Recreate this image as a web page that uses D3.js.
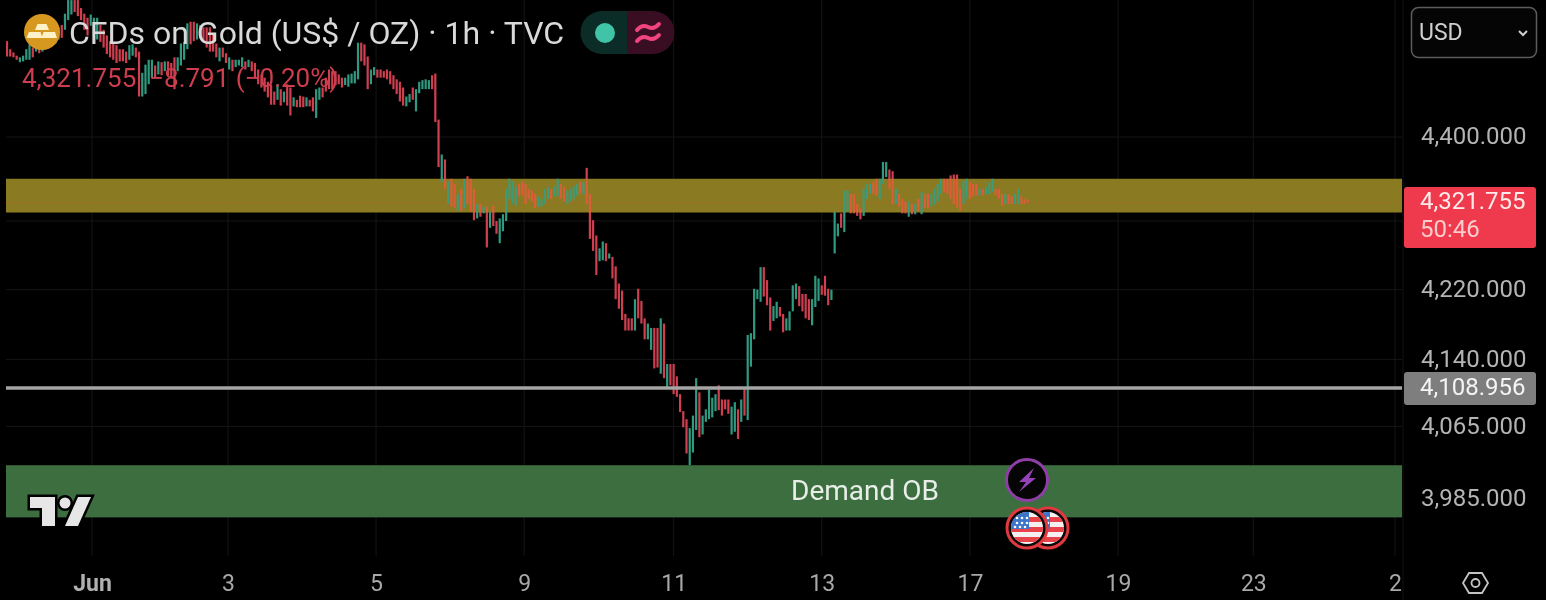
<!DOCTYPE html>
<html><head><meta charset="utf-8">
<script src="https://cdn.jsdelivr.net/npm/d3@7/dist/d3.min.js"></script>
<style>
html,body{margin:0;padding:0;background:#000;overflow:hidden}
svg{display:block;filter:blur(.6px)}
text{font-family:Roboto,"Noto Sans",sans-serif}
</style></head><body>
<svg id="c" width="1546" height="600"></svg>
<script>
const highs=[
4517,4507,4503,4499,4497,4499,4507,4513,4509,4513,
4512,4514,4519,4521,4524,4529,4534,4537,4551,4568,
4568,4568,4568,4558,4551,4546,4550,4546,4546,4537,
4531,4524,4517,4514,4512,4507,4507,4504,4512,4513,
4509,4504,4478,4488,4494,4494,4487,4492,4491,4492,
4492,4490,4497,4497,4514,4516,4539,4541,4541,4539,
4537,4534,4534,4534,4526,4514,4509,4509,4502,4497,
4494,4494,4494,4497,4492,4494,4492,4490,4482,4476,
4472,4467,4463,4455,4464,4458,4455,4464,4460,4448,
4445,4450,4449,4448,4445,4448,4458,4460,4460,4472,
4482,4480,4480,4476,4472,4472,4476,4477,4480,4515,
4515,4513,4498,4482,4485,4482,4482,4480,4482,4480,
4475,4470,4467,4460,4449,4452,4460,4458,4467,4469,
4470,4469,4475,4477,4421,4379,4373,4347,4350,4344,
4332,4338,4350,4353,4350,4338,4320,4320,4317,4317,
4311,4318,4300,4303,4308,4338,4350,4347,4341,4344,
4346,4344,4338,4336,4332,4329,4326,4338,4340,4338,
4341,4350,4344,4340,4336,4338,4341,4344,4346,4346,
4363,4332,4301,4283,4268,4276,4274,4262,4258,4247,
4227,4219,4192,4187,4187,4209,4221,4207,4187,4181,
4176,4176,4176,4187,4181,4135,4135,4135,4121,4101,
4082,4073,4063,4077,4119,4103,4077,4084,4106,4097,
4101,4111,4095,4095,4095,4087,4092,4084,4095,4107,
4168,4170,4221,4220,4246,4246,4231,4211,4201,4206,
4200,4192,4187,4195,4225,4227,4224,4215,4215,4209,
4209,4236,4233,4225,4236,4221,4220,4311,4297,4309,
4336,4336,4332,4332,4320,4315,4338,4344,4344,4346,
4350,4350,4370,4370,4361,4359,4338,4332,4326,4323,
4323,4320,4320,4326,4334,4332,4332,4332,4338,4344,
4350,4350,4350,4354,4355,4355,4338,4347,4350,4346,
4344,4344,4338,4338,4340,4346,4350,4338,4338,4332,
4332,4332,4329,4332,4338,4329,4326,4325];
const lows=[
4498,4498,4497,4494,4491,4492,4494,4494,4497,4504,
4502,4504,4507,4512,4512,4514,4519,4521,4531,4543,
4550,4553,4548,4543,4531,4524,4536,4524,4519,4516,
4509,4501,4497,4494,4490,4492,4492,4490,4494,4499,
4497,4449,4449,4452,4464,4472,4472,4476,4475,4480,
4475,4472,4458,4480,4487,4494,4507,4513,4517,4519,
4521,4517,4509,4504,4504,4497,4492,4497,4490,4482,
4480,4485,4487,4485,4482,4485,4480,4472,4464,4460,
4455,4448,4439,4439,4445,4438,4442,4438,4426,4437,
4436,4436,4436,4437,4437,4431,4423,4445,4448,4455,
4458,4458,4463,4464,4460,4463,4461,4465,4465,4470,
4492,4487,4458,4464,4475,4472,4472,4472,4470,4464,
4458,4452,4443,4438,4437,4442,4445,4431,4453,4458,
4458,4458,4458,4418,4364,4346,4338,4320,4317,4315,
4312,4312,4315,4320,4311,4301,4303,4305,4309,4269,
4292,4294,4285,4274,4288,4300,4326,4320,4318,4330,
4330,4320,4326,4323,4315,4317,4317,4320,4326,4326,
4329,4329,4326,4323,4320,4323,4326,4330,4332,4332,
4320,4279,4265,4237,4253,4254,4253,4256,4233,4209,
4198,4185,4173,4173,4173,4173,4187,4181,4163,4163,
4151,4130,4131,4124,4119,4107,4111,4101,4098,4081,
4064,4035,4022,4036,4061,4053,4056,4070,4073,4075,
4082,4083,4077,4084,4079,4056,4059,4051,4070,4077,
4072,4132,4163,4209,4206,4212,4202,4173,4184,4187,
4189,4171,4173,4173,4195,4209,4201,4195,4187,4185,
4179,4200,4207,4214,4213,4202,4208,4262,4282,4292,
4287,4311,4309,4309,4306,4302,4306,4326,4332,4332,
4330,4326,4344,4352,4338,4320,4320,4317,4309,4309,
4305,4308,4308,4312,4308,4315,4315,4317,4320,4323,
4332,4334,4332,4326,4320,4315,4312,4320,4326,4326,
4329,4330,4330,4330,4331,4332,4334,4330,4326,4318,
4320,4320,4320,4320,4320,4320,4320,4321.755];
const directions=(
"RRRRGGGGRG"+"RGGGRGGRGG"+"GRRRRRGGGR"+"RRRRRRRRGG"+"RRGGGGRGRG"+
"RRRGGGGRRG"+"GRRRRRGRRG"+"RGGGRGRRRR"+"RRRRGRGRRG"+"RRRGRRGGRR"+
"RRRRRGGGGG"+"RRRGGRRRRR"+"RRRRGGRGGG"+"GGRRRGRGRR"+"GRGRRRGRGR"+
"GRRGGGGGGR"+"RRRRRGGGGR"+"GGRRGGGGRG"+"RRRRGGRGRR"+"RRRRRGRRRG"+
"GRRGRGRRRR"+"RRGGGRGGGG"+"GRRRRGGRGR"+"GGGGGRRRGG"+"RRGGGGRRRR"+
"GGGRRRGGGR"+"GGRRRRGGGR"+"RGGGRRGRRR"+"GRGRGRRGGG"+"GRRRRRRGGR"+
"RRGRGGGRRR"+"GRRGGRRR").split("");
const priceTicks=[4400,4300,4220,4140,4065,3985];
const priceLabels=["4,400.000","","4,220.000","4,140.000","4,065.000","3,985.000"];
const timeTickBars=[26.4,68.6,114.6,160.6,207,253,299,345,387,431];
const timeLabels=["Jun","3","5","9","11","13","17","19","23","2"];
const lastPrice=4321.755, refPrice=4108.956;
const supplyZone=[4350,4310], demandZone=[4022,3965];
const title="CFDs on Gold (US$ / OZ) · 1h · TVC";
const legendValues="4,321.755  −8.791 (−0.20%)";

const svg=d3.select("#c");
const L=6,R=1402;
const x=d3.scaleLinear().domain([0,431]).range([7,1395]);
const y=d3.scaleLog().domain([4400,3985]).range([137,499]);
const defs=svg.append("defs");
defs.append("clipPath").attr("id","pane").append("rect").attr("x",L).attr("y",0).attr("width",R-L).attr("height",560);

// grid
const gridC="#151515";
svg.append("g").selectAll("line").data(timeTickBars).join("line")
 .attr("x1",d=>x(d)).attr("x2",d=>x(d)).attr("y1",0).attr("y2",556).attr("stroke",gridC);
svg.append("g").selectAll("line").data(priceTicks).join("line")
 .attr("x1",L).attr("x2",R).attr("y1",d=>y(d)).attr("y2",d=>y(d)).attr("stroke",gridC);
svg.append("line").attr("x1",1403).attr("x2",1403).attr("y1",0).attr("y2",600).attr("stroke","#121212");

// zones under candles
const zoneY=z=>({y:y(z[0]),h:y(z[1])-y(z[0])});
const sz=zoneY(supplyZone), dz=zoneY(demandZone);
svg.append("rect").attr("x",L).attr("y",dz.y).attr("width",R-L).attr("height",dz.h).attr("fill","#3d6e40");
defs.append("clipPath").attr("id","bandclip").append("rect").attr("x",L).attr("y",sz.y).attr("width",R-L).attr("height",sz.h);

// candles
function candles(parent,col){
 parent.selectAll("rect").data(highs).join("rect")
 .attr("x",(d,i)=>x(i)-1.1).attr("width",2.2)
 .attr("y",d=>y(d)).attr("height",(d,i)=>Math.max(1,y(lows[i])-y(d)))
 .attr("fill",(d,i)=>col[directions[i]]);
}
candles(svg.append("g").attr("clip-path","url(#pane)"),{R:"#cf3f50",G:"#2f9a80"});
svg.append("rect").attr("x",L).attr("y",sz.y).attr("width",R-L).attr("height",sz.h).attr("fill","#8a7a22");
// last price line
svg.append("line").attr("x1",L).attr("x2",R).attr("y1",y(lastPrice)).attr("y2",y(lastPrice))
 .attr("stroke","#d8503a").attr("stroke-opacity",.45).attr("stroke-width",1).attr("stroke-dasharray","2 2");
candles(svg.append("g").attr("clip-path","url(#bandclip)"),{R:"#dc5e38",G:"#3f9a78"});
// reference line
svg.append("line").attr("x1",L).attr("x2",R).attr("y1",y(refPrice)+1).attr("y2",y(refPrice)+1)
 .attr("stroke","#a5a5a5").attr("stroke-width",3.5);

// demand text
svg.append("text").attr("x",865).attr("y",500).attr("text-anchor","middle")
 .attr("font-size",28).attr("fill","#e8eee8").text("Demand OB");

// price axis
const yAxis=d3.axisRight(y).tickValues(priceTicks).tickSize(0).tickPadding(0).tickFormat((d,i)=>priceLabels[i]);
const ya=svg.append("g").attr("transform","translate(1421,-1)").call(yAxis);
ya.select(".domain").remove();
ya.selectAll("text").attr("font-size",24).attr("fill","#b4b4b4").attr("font-family","Roboto");

// time axis
const xAxis=d3.axisBottom(x).tickValues(timeTickBars).tickSize(0).tickPadding(0).tickFormat((d,i)=>timeLabels[i]);
const xa=svg.append("g").attr("transform","translate(0,575)").call(xAxis);
xa.select(".domain").remove();
xa.selectAll("text").attr("font-size",23).attr("fill","#a8a8a8").attr("font-family","Roboto");
xa.selectAll("text").filter((d,i)=>i===0).attr("font-weight",700).attr("fill","#b0b0b0");

// price labels
svg.append("rect").attr("x",1404).attr("y",187).attr("width",132).attr("height",61).attr("rx",3).attr("fill","#ef3a4d");
svg.append("text").attr("x",1420).attr("y",209).attr("font-size",24).attr("fill","#fdeaea").text(d3.format(",.3f")(lastPrice));
svg.append("text").attr("x",1420).attr("y",237).attr("font-size",24).attr("fill","#fbcccc").text("50:46");
svg.append("rect").attr("x",1404).attr("y",372).attr("width",132).attr("height",33).attr("rx",3).attr("fill","#7e7e7e");
svg.append("text").attr("x",1420).attr("y",395).attr("font-size",24).attr("fill","#f4f4f4").text(d3.format(",.3f")(refPrice));

// currency box
svg.append("rect").attr("x",1411.5).attr("y",7.5).attr("width",125).attr("height",50).attr("rx",7).attr("fill","#050505").attr("stroke","#5c5c5c").attr("stroke-width",1.5);
svg.append("text").attr("x",1419).attr("y",40).attr("font-size",23).attr("fill","#cfcfcf").text("USD");
svg.append("path").attr("d","M1519,31 l4,4 l4,-4").attr("fill","none").attr("stroke","#d0d0d0").attr("stroke-width",2);

// legend
svg.append("text").attr("x",69).attr("y",44).attr("font-size",32).attr("fill","#d9d9d9").text(title);
svg.append("text").attr("x",22).attr("y",87).attr("font-size",26).attr("fill","#cc3d4d").style("white-space","pre").text(legendValues);
// gold icon
svg.append("circle").attr("cx",42).attr("cy",32).attr("r",18).attr("fill","#d7981f");
svg.append("path").attr("fill","#fff2c8").attr("d","M37.5,24 h9 l2.5,6 h-14 z M29,32 h11.5 l2,6 h-16 z M43.5,32 h11.5 l2,6 h-15.5 z");
// status pill
svg.append("path").attr("d","M602,11 a21.5,21.5 0 0 0 0,43 h25 v-43 z").attr("fill","#0c2c28");
svg.append("path").attr("d","M627,11 h26 a21.5,21.5 0 0 1 0,43 h-26 z").attr("fill","#3a0e22");
svg.append("circle").attr("cx",605).attr("cy",33).attr("r",10).attr("fill","#41c3a8");
svg.append("path").attr("d","M637,30 q5,-6 11,-3 t11,-3 M637,41 q5,-6 11,-3 t11,-3").attr("fill","none").attr("stroke","#f0447f").attr("stroke-width",4).attr("stroke-linecap","round");

// TV logo
const logo=svg.append("g").attr("fill","#e6e6e6").attr("stroke","#000").attr("stroke-width",5).attr("paint-order","stroke").attr("stroke-linejoin","miter");
logo.append("path").attr("d","M30,497 h25 v29 h-13 v-18 h-12 z");
logo.append("circle").attr("cx",65).attr("cy",503).attr("r",5.5);
logo.append("path").attr("d","M78,497 h13 l-13,29 h-13 z");

// event markers
svg.append("circle").attr("cx",1027).attr("cy",480).attr("r",20.5).attr("fill","#050505").attr("stroke","#8d3fa6").attr("stroke-width",3);
svg.append("path").attr("d","M1034,468 l-15,14 h7 l-7,10 l17,-14 h-7 z").attr("fill","#9442b8");
[[1048,528],[1027,528]].forEach((c,k)=>{
 const id="flag"+k;
 defs.append("clipPath").attr("id",id).append("circle").attr("cx",c[0]).attr("cy",c[1]).attr("r",16);
 svg.append("circle").attr("cx",c[0]).attr("cy",c[1]).attr("r",20).attr("fill","#080808").attr("stroke","#e0393f").attr("stroke-width",3);
 const g=svg.append("g").attr("clip-path",`url(#${id})`);
 g.append("rect").attr("x",c[0]-16).attr("y",c[1]-16).attr("width",32).attr("height",32).attr("fill","#f5f0f0");
 [-11,-1,9].forEach(o=>g.append("rect").attr("x",c[0]-16).attr("y",c[1]+o).attr("width",32).attr("height",5).attr("fill","#e8434a"));
 g.append("rect").attr("x",c[0]-16).attr("y",c[1]-16).attr("width",18).attr("height",17).attr("fill","#3b74c9");
 [[-10,-10],[-5,-10],[0,-10],[-10,-5],[-5,-5],[0,-5],[-12,-1],[-7,-1],[-2,-1]].forEach(o=>g.append("circle").attr("cx",c[0]+o[0]).attr("cy",c[1]+o[1]).attr("r",1.3).attr("fill","#fff"));
});

// settings hexagon
svg.append("path").attr("d","M1463,583 l6,-10 h13 l6,10 l-6,10 h-13 z").attr("fill","none").attr("stroke","#c4c4c4").attr("stroke-width",1.8);
svg.append("circle").attr("cx",1475.5).attr("cy",583).attr("r",4).attr("fill","none").attr("stroke","#c4c4c4").attr("stroke-width",1.8);
</script></body></html>
